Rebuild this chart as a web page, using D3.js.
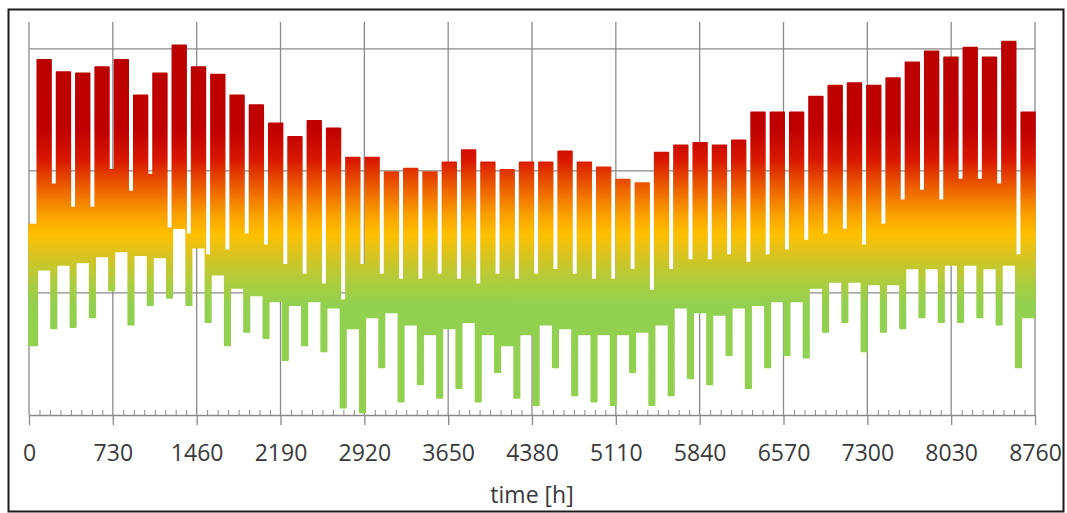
<!DOCTYPE html>
<html>
<head>
<meta charset="utf-8">
<script src="https://cdn.jsdelivr.net/npm/d3@7"></script>
<style>
  body { margin: 0; background: #fff; }
  text { font-family: "Open Sans", sans-serif; }
</style>
</head>
<body>
<div id="chart"></div>
<script>
// tick labels on the time axis (hours of the year)
var xTicks = [0, 730, 1460, 2190, 2920, 3650, 4380, 5110, 5840, 6570, 7300, 8030, 8760];
var yGrid = [10, 20, 30];

// weekly ranges.
// weekend 0 = the first three days of the year, then Mon-Fri block, Sat-Sun block, ...
var weekdayHigh = [29.1, 28.1, 28.0, 28.5, 29.1, 26.2, 28.0, 30.3, 28.5, 27.9, 26.2, 25.4, 23.9,
                   22.8, 24.1, 23.5, 21.1, 21.1, 19.9, 20.2, 19.9, 20.7, 21.7, 20.7, 20.1, 20.7,
                   20.7, 21.6, 20.7, 20.3, 19.3, 19.0, 21.5, 22.1, 22.3, 22.1, 22.5, 24.8, 24.8,
                   24.8, 26.1, 27.0, 27.2, 27.0, 27.6, 28.9, 29.8, 29.3, 30.1, 29.3, 30.6, 24.8];
var weekdayLow  = [11.9, 12.3, 12.5, 13.0, 13.4, 13.1, 12.9, 15.3, 13.7, 11.5, 10.4, 9.8, 9.3,
                   9.0, 9.3, 8.8, 7.1, 8.0, 8.4, 7.4, 6.6, 7.1, 7.6, 6.6, 5.7, 6.6,
                   7.4, 7.1, 6.6, 6.6, 6.6, 6.8, 7.4, 8.8, 8.4, 8.2, 8.8, 9.0, 9.3,
                   9.3, 10.4, 10.9, 10.9, 10.7, 10.7, 12.0, 12.0, 12.3, 12.3, 12.0, 12.3, 8.0];
var weekendHigh = [15.6, 18.9, 17.0, 17.0, 20.1, 18.3, 19.7, 15.3, 14.8, 13.1, 13.5, 14.8, 13.9,
                   12.3, 11.5, 10.7, 9.4, 12.3, 11.5, 11.1, 11.1, 11.5, 11.1, 10.7, 11.5, 11.1,
                   11.5, 11.9, 11.5, 11.1, 11.1, 11.9, 10.2, 11.9, 12.7, 12.7, 13.1, 12.5, 13.1,
                   13.5, 14.3, 14.8, 15.2, 13.9, 15.6, 17.6, 18.4, 17.6, 19.3, 19.3, 18.9, 13.1];
var weekendLow  = [5.7, 7.1, 7.2, 8.0, 10.2, 7.4, 9.0, 9.6, 9.0, 7.6, 5.7, 6.8, 6.3,
                   4.5, 5.7, 5.2, 0.6, 0.2, 3.9, 1.1, 2.5, 1.4, 2.2, 1.1, 3.5, 1.4,
                   0.8, 3.9, 1.6, 1.1, 0.8, 3.5, 0.8, 1.6, 3.0, 2.5, 4.9, 2.2, 3.9,
                   4.9, 4.7, 6.8, 7.6, 5.2, 6.8, 7.1, 8.0, 7.6, 7.6, 8.0, 7.4, 3.9];

var W = 1067, H = 513;
var margin = {top: 22, right: 32, bottom: 98, left: 29};
var width = W - margin.left - margin.right;
var height = H - margin.top - margin.bottom;

var svg = d3.select("#chart").append("svg")
    .attr("width", W)
    .attr("height", H);

// outer frame
svg.append("rect")
    .attr("x", 8.5).attr("y", 9.5)
    .attr("width", 1055).attr("height", 502)
    .attr("fill", "#fff")
    .attr("stroke", "#1a1a1a")
    .attr("stroke-width", 2);

var g = svg.append("g")
    .attr("transform", "translate(" + margin.left + "," + margin.top + ")");

var x = d3.scaleLinear().domain([0, 8760]).range([0, width]);
var y = d3.scaleLinear().domain([0, 32.2]).range([height, 0]);

// build the blocks: weekend, then workdays, hour positions from day numbers
var blocks = [];
for (var i = 0; i < weekdayHigh.length; i++) {
  var weStart = i === 0 ? 0 : (7 * i + 1) * 24;
  blocks.push({h: weStart, lo: weekendLow[i], hi: weekendHigh[i]});
  blocks.push({h: (7 * i + 3) * 24, lo: weekdayLow[i], hi: weekdayHigh[i]});
}
var last = blocks[blocks.length - 1];
blocks.push({h: 8760, lo: last.lo, hi: last.hi});

// colour follows the value, dark red on top, green at the bottom
var gradStops = [
  {v: 32.2, c: "#b80000"},
  {v: 23.4, c: "#c00000"},
  {v: 20.9, c: "#d81800"},
  {v: 18.4, c: "#ee6600"},
  {v: 16.4, c: "#f8a000"},
  {v: 14.8, c: "#ffc000"},
  {v: 13.1, c: "#d8c420"},
  {v: 11.1, c: "#b0cc3c"},
  {v: 9.0,  c: "#92d050"},
  {v: 0,    c: "#92d050"}
];
// user space of the plot group (the path sits inside g)
var grad = svg.append("defs").append("linearGradient")
    .attr("id", "heat")
    .attr("gradientUnits", "userSpaceOnUse")
    .attr("x1", 0).attr("x2", 0)
    .attr("y1", y(32.2)).attr("y2", y(0));
grad.selectAll("stop").data(gradStops).enter().append("stop")
    .attr("offset", function(d) { return 1 - d.v / 32.2; })
    .attr("stop-color", function(d) { return d.c; });

// grid
g.selectAll(".hgrid").data(yGrid).enter().append("line")
    .attr("class", "hgrid")
    .attr("x1", 0).attr("x2", width)
    .attr("y1", function(d) { return y(d); })
    .attr("y2", function(d) { return y(d); })
    .attr("stroke", "#8a8a8a")
    .attr("stroke-width", 1.3);
g.selectAll(".vgrid").data(xTicks).enter().append("line")
    .attr("class", "vgrid")
    .attr("x1", function(d) { return x(d); })
    .attr("x2", function(d) { return x(d); })
    .attr("y1", 0).attr("y2", height)
    .attr("stroke", "#8a8a8a")
    .attr("stroke-width", 1.3);

var area = d3.area()
    .curve(d3.curveStepAfter)
    .x(function(d) { return x(d.h); })
    .y0(function(d) { return y(d.lo); })
    .y1(function(d) { return y(d.hi); });

g.append("path")
    .datum(blocks)
    .attr("d", area)
    .attr("fill", "url(#heat)")
    .attr("stroke", "url(#heat)")
    .attr("stroke-width", 1.6)
    .attr("stroke-linejoin", "round");

// minor ticks pointing up
var minor = [];
for (var k = 0; k < xTicks.length - 1; k++) {
  for (var m = 1; m < 8; m++) minor.push(xTicks[k] + (xTicks[k + 1] - xTicks[k]) * m / 8);
}
g.append("g")
    .attr("transform", "translate(0," + height + ")")
    .call(d3.axisBottom(x).tickValues(minor).tickSize(-5).tickFormat(""))
    .call(function(s) {
      s.select(".domain").remove();
      s.selectAll("line").attr("stroke", "#8a8a8a");
    });

var xAxis = g.append("g")
    .attr("transform", "translate(0," + height + ")")
    .call(d3.axisBottom(x).tickValues(xTicks).tickSize(10).tickSizeOuter(0).tickPadding(20)
      .tickFormat(d3.format("d")));
xAxis.select(".domain").attr("stroke", "#8a8a8a").attr("stroke-width", 1.3);
xAxis.selectAll("line").attr("stroke", "#8a8a8a").attr("stroke-width", 1.3);
xAxis.selectAll("text")
    .attr("fill", "#3a3a3a")
    .style("font-size", "23px");

g.append("text")
    .attr("x", width / 2)
    .attr("y", height + 88)
    .attr("text-anchor", "middle")
    .attr("fill", "#3a3a3a")
    .style("font-size", "23px")
    .text("time [h]");
</script>
</body>
</html>
